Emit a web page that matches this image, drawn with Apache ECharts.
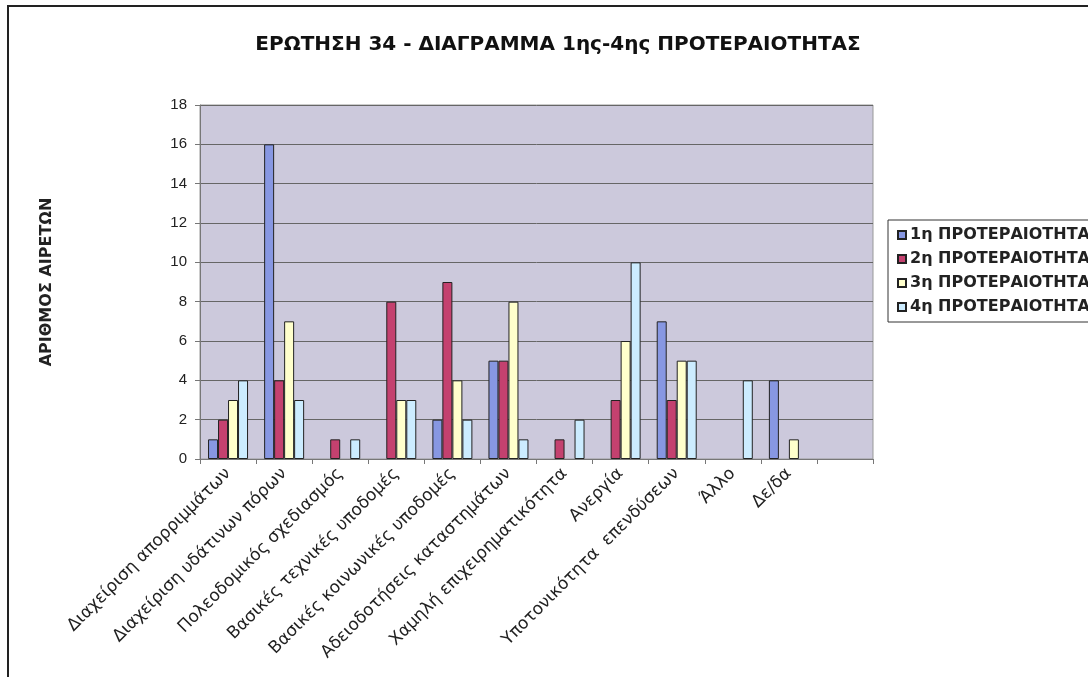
<!DOCTYPE html>
<html>
<head>
<meta charset="utf-8">
<script src="https://cdn.jsdelivr.net/npm/echarts@6/dist/echarts.min.js"></script>
<style>
    html, body { margin: 0; padding: 0; background: #fff; overflow: hidden; }
    #frame { position: absolute; left: 7px; top: 5px; width: 1081px; height: 672px; border-left: 2px solid #222; border-top: 2px solid #222; }
    #main { position: absolute; left: 0; top: 0; width: 1088px; height: 677px; }
</style>
</head>
<body>
<div id="frame"></div>
<div id="main"></div>
<script>
// κατηγορίες (η τελευταία είναι κενή στο πρωτότυπο)
var categories = [
    'Διαχείριση απορριμμάτων',
    'Διαχείριση υδάτινων πόρων',
    'Πολεοδομικός σχεδιασμός',
    'Βασικές τεχνικές υποδομές',
    'Βασικές κοινωνικές υποδομές',
    'Αδειοδοτήσεις καταστημάτων',
    'Χαμηλή επιχειρηματικότητα',
    'Ανεργία',
    'Υποτονικότητα  επενδύσεων',
    'Άλλο',
    'Δε/δα',
    ''
];
var seriesNames = ['1η ΠΡΟΤΕΡΑΙΟΤΗΤΑ', '2η ΠΡΟΤΕΡΑΙΟΤΗΤΑ', '3η ΠΡΟΤΕΡΑΙΟΤΗΤΑ', '4η ΠΡΟΤΕΡΑΙΟΤΗΤΑ'];
var first = [1, 16, 0, 0, 2, 5, 0, 0, 7, 0, 4, 0];
var second = [2, 4, 1, 8, 9, 5, 1, 3, 3, 0, 0, 0];
var third = [3, 7, 0, 3, 4, 8, 0, 6, 5, 0, 1, 0];
var fourth = [4, 3, 1, 3, 2, 1, 2, 10, 5, 4, 0, 0];
var yTicks = [0, 2, 4, 6, 8, 10, 12, 14, 16, 18];

var colors = ['#8797e2', '#c4416f', '#ffffcc', '#ccecff'];
var values = [first, second, third, fourth];

var series = seriesNames.map(function (name, i) {
    return {
        name: name,
        type: 'bar',
        barWidth: 10,
        barGap: '0%',
        itemStyle: { color: colors[i], borderColor: '#222', borderWidth: 1 },
        // μηδενικές τιμές δεν σχεδιάζονται
        data: values[i].map(function (v) { return v === 0 ? '-' : v; })
    };
});

var myChart = echarts.init(document.getElementById('main'));
myChart.setOption({
    animation: false,
    title: {
        text: 'ΕΡΩΤΗΣΗ 34 - ΔΙΑΓΡΑΜΜΑ 1ης-4ης ΠΡΟΤΕΡΑΙΟΤΗΤΑΣ',
        left: 553,
        textAlign: 'center',
        top: 30,
        textStyle: { fontFamily: "'DejaVu Sans'", fontSize: 20, fontWeight: 'bold', color: '#111' }
    },
    legend: {
        orient: 'vertical',
        left: 888,
        top: 220,
        padding: [7, 60, 7, 9],
        itemGap: 8,
        itemWidth: 8,
        itemHeight: 8,
        icon: 'rect',
        borderColor: '#333',
        borderWidth: 1,
        backgroundColor: '#fff',
        textStyle: { fontFamily: "'DejaVu Sans'", fontSize: 16, fontWeight: 'bold', color: '#222', padding: [0, 0, 0, -1], lineHeight: 16 },
        data: seriesNames
    },
    grid: {
        left: 200,
        right: 215,
        top: 105,
        bottom: 218,
        show: true,
        backgroundColor: '#ccc9dc',
        borderColor: '#999',
        borderWidth: 1
    },
    xAxis: {
        type: 'category',
        data: categories,
        axisLine: { lineStyle: { color: '#777' } },
        axisTick: { show: true, length: 5, lineStyle: { color: '#777' } },
        axisLabel: {
            interval: 0,
            rotate: 45,
            margin: 12,
            fontFamily: "'DejaVu Sans'",
            fontSize: 17,
            color: '#222'
        }
    },
    yAxis: {
        type: 'value',
        min: yTicks[0],
        max: yTicks[yTicks.length - 1],
        interval: 2,
        name: 'ΑΡΙΘΜΟΣ ΑΙΡΕΤΩΝ',
        nameLocation: 'middle',
        nameRotate: 90,
        nameGap: 145,
        nameTextStyle: { fontFamily: "'DejaVu Sans'", fontSize: 16, fontWeight: 'bold', color: '#222' },
        axisLine: { show: true, lineStyle: { color: '#777' } },
        axisTick: { show: true, length: 5, lineStyle: { color: '#777' } },
        axisLabel: { margin: 13, fontFamily: 'Liberation Sans', fontSize: 15, color: '#222' },
        splitLine: { lineStyle: { color: '#666', width: 1 } }
    },
    series: series
});
</script>
</body>
</html>
